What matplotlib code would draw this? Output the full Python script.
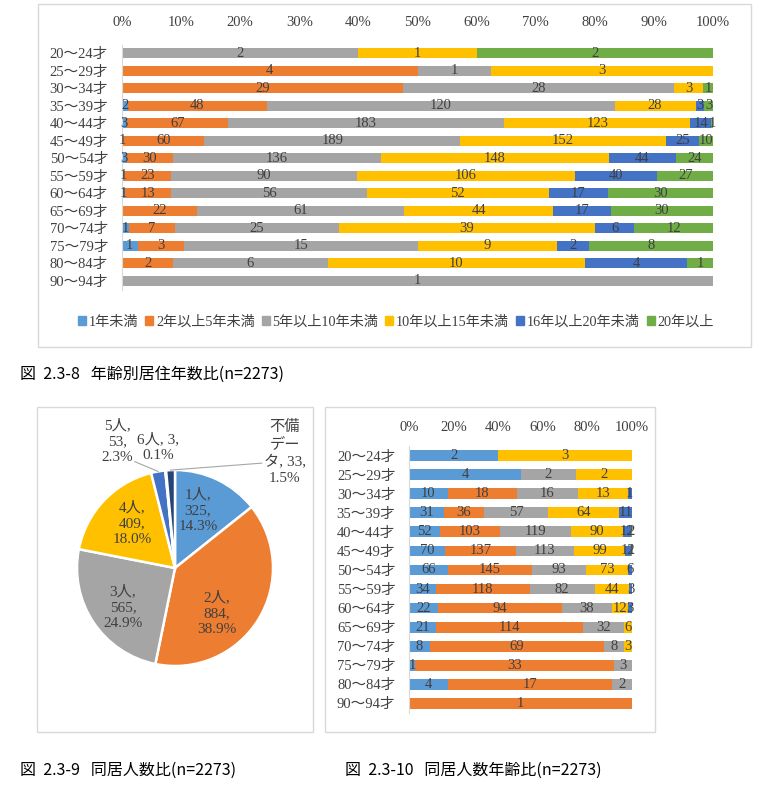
import numpy as np
import matplotlib
matplotlib.use("Agg")
import matplotlib.pyplot as plt
from matplotlib.patches import Patch, Rectangle

# age groups (rows, top to bottom)
ages = ["20～24才", "25～29才", "30～34才", "35～39才", "40～44才", "45～49才", "50～54才",
        "55～59才", "60～64才", "65～69才", "70～74才", "75～79才", "80～84才", "90～94才"]

# fig 2.3-8 : years of residence by age
stay_labels = ["1年未満", "2年以上5年未満", "5年以上10年未満", "10年以上15年未満",
               "16年以上20年未満", "20年以上"]
stay_lt1 = [0, 0, 0, 2, 3, 1, 3, 1, 1, 0, 1, 1, 0, 0]
stay_2to5 = [0, 4, 29, 48, 67, 60, 30, 23, 13, 22, 7, 3, 2, 0]
stay_5to10 = [2, 1, 28, 120, 183, 189, 136, 90, 56, 61, 25, 15, 6, 1]
stay_10to15 = [1, 3, 3, 28, 123, 152, 148, 106, 52, 44, 39, 9, 10, 0]
stay_16to20 = [0, 0, 0, 3, 14, 25, 44, 40, 17, 17, 6, 2, 4, 0]
stay_20plus = [2, 0, 1, 3, 1, 10, 24, 27, 30, 30, 12, 8, 1, 0]

# fig 2.3-9 : household size
pie_labels = ["1人", "2人", "3人", "4人", "5人", "6人", "不備\nデー\nタ"]
pie_counts = [325, 884, 565, 409, 53, 3, 33]

# fig 2.3-10 : household size by age
hh_labels = ["1人", "2人", "3人", "4人", "5人", "6人"]
hh_1 = [2, 4, 10, 31, 52, 70, 66, 34, 22, 21, 8, 1, 4, 0]
hh_2 = [0, 0, 18, 36, 103, 137, 145, 118, 94, 114, 69, 33, 17, 1]
hh_3 = [0, 2, 16, 57, 119, 113, 93, 82, 38, 32, 8, 3, 2, 0]
hh_4 = [3, 2, 13, 64, 90, 99, 73, 44, 12, 6, 3, 0, 0, 0]
hh_5 = [0, 0, 1, 11, 12, 12, 6, 3, 3, 0, 0, 0, 0, 0]
hh_6 = [0, 0, 0, 0, 2, 1, 0, 0, 0, 0, 0, 0, 0, 0]

colors = ["#5B9BD5", "#ED7D31", "#A5A5A5", "#FFC000", "#4472C4", "#70AD47"]
pie_colors = colors + ["#264478"]

SERIF = ["Liberation Serif", "Noto Sans CJK JP"]
GOTH = ["Noto Sans CJK JP", "DejaVu Sans"]
TXT = "#404040"

W, H = 768, 787
fig = plt.figure(figsize=(W / 100, H / 100), dpi=100)
fig.patch.set_facecolor("white")


def px_axes(x0, y0, x1, y1):
    # pixel box (top-left origin) -> figure axes
    return fig.add_axes([x0 / W, 1 - y1 / H, (x1 - x0) / W, (y1 - y0) / H])


def border(x0, y0, x1, y1):
    fig.patches.append(Rectangle((x0 / W, 1 - y1 / H), (x1 - x0) / W, (y1 - y0) / H,
                                 transform=fig.transFigure, fill=False,
                                 edgecolor="#D9D9D9", lw=1))


def stacked(ax, series, ticks, pad_top, pad_left):
    data = np.array(series, dtype=float)
    totals = data.sum(axis=0)
    share = data / totals * 100
    y = np.arange(len(ages))
    left = np.zeros(len(ages))
    for i, row in enumerate(share):
        ax.barh(y, row, left=left, height=0.57, color=colors[i], zorder=2)
        for j, v in enumerate(row):
            if data[i, j] > 0:
                ax.text(left[j] + v / 2, y[j], "%d" % data[i, j], ha="center", va="center",
                        fontsize=10.5, color=TXT, family=SERIF, zorder=3)
        left += row
    ax.set_xlim(0, 100)
    ax.set_ylim(len(ages) - 0.5, -0.5)
    ax.set_yticks(y)
    ax.set_yticklabels(ages, family=SERIF, fontsize=10.5, color=TXT)
    ax.set_xticks(ticks)
    ax.set_xticklabels(["%d%%" % t for t in ticks], family=SERIF, fontsize=10.5, color=TXT)
    ax.xaxis.tick_top()
    ax.tick_params(axis="x", length=0, pad=pad_top)
    ax.tick_params(axis="y", length=0, pad=pad_left)
    for s in ["top", "right", "bottom"]:
        ax.spines[s].set_visible(False)
    ax.spines["left"].set_color("#D9D9D9")
    ax.set_facecolor("none")


# ---- top chart
border(38, 4, 751, 347)
ax1 = px_axes(122, 44.5, 713, 289.5)
stacked(ax1, [stay_lt1, stay_2to5, stay_5to10, stay_10to15, stay_16to20, stay_20plus],
        list(range(0, 101, 10)), 11, 10)
handles = [Patch(color=c, label=l) for c, l in zip(colors, stay_labels)]
fig.legend(handles=handles, loc="center", bbox_to_anchor=(396 / W, 1 - 322 / H), ncol=6,
           frameon=False, prop={"family": SERIF, "size": 10.2}, handlelength=0.55,
           handleheight=0.55, handletextpad=0.2, columnspacing=0.5, labelcolor=TXT)
fig.text(20 / W, 1 - 374 / H, "図  2.3-8   年齢別居住年数比(n=2273)", family=GOTH,
         fontsize=11.5, va="center", ha="left")

# ---- pie chart
border(37, 407, 313, 732)
k = 1.5
R = 98
axp = px_axes(175 - R * k, 568 - R * k, 175 + R * k, 568 + R * k)
wedges, _ = axp.pie(pie_counts, colors=pie_colors, startangle=90, counterclock=False,
                    radius=1, wedgeprops={"edgecolor": "white", "linewidth": 1.8})
axp.set_xlim(-k, k)
axp.set_ylim(-k, k)
axp.axis("off")
total = sum(pie_counts)
label_pos = [(0.235, 0.59), (0.43, -0.46), (-0.53, -0.40), (-0.44, 0.46),
             (-0.59, 1.29), (-0.17, 1.23), (1.12, 1.18)]
for i, (lab, cnt) in enumerate(zip(pie_labels, pie_counts)):
    pct = "%.1f%%" % (cnt / total * 100)
    if i >= 5:
        s = "%s, %d,\n%s" % (lab, cnt, pct)
    else:
        s = "%s,\n%d,\n%s" % (lab, cnt, pct)
    axp.text(label_pos[i][0], label_pos[i][1], s, ha="center", va="center", fontsize=11,
             color=TXT, family=SERIF, linespacing=1.3)
# leader lines to the small slices
for i, start in [(4, (-0.41, 1.085)), (6, (0.885, 1.07))]:
    w = wedges[i]
    a = np.deg2rad((w.theta1 + w.theta2) / 2)
    axp.plot([start[0], np.cos(a)], [start[1], np.sin(a)], color="#A6A6A6", lw=0.8)
fig.text(20 / W, 1 - 770 / H, "図  2.3-9   同居人数比(n=2273)", family=GOTH,
         fontsize=11.5, va="center", ha="left")

# ---- right chart
border(325, 407, 655, 732)
ax2 = px_axes(409.3, 446.2, 631.7, 712.8)
stacked(ax2, [hh_1, hh_2, hh_3, hh_4, hh_5, hh_6], list(range(0, 101, 20)), 9, 10)
fig.text(345 / W, 1 - 770 / H, "図  2.3-10   同居人数年齢比(n=2273)", family=GOTH,
         fontsize=11.5, va="center", ha="left")

fig.savefig("out.png", dpi=100, facecolor="white")
